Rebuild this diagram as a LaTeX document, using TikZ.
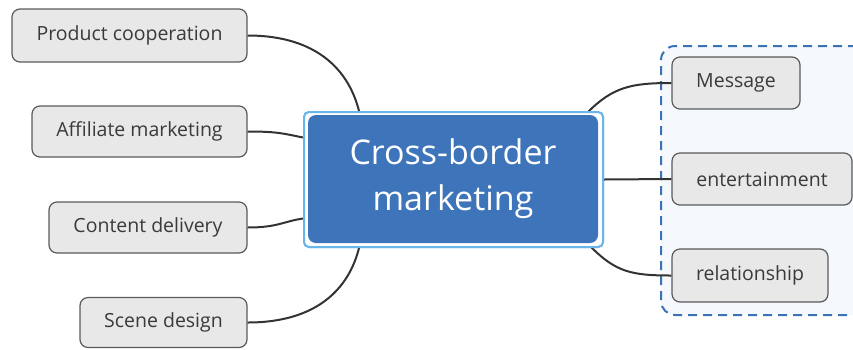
\documentclass[tikz,border=0pt]{standalone}
\usepackage{fontspec}
\setmainfont{Open Sans}
\usetikzlibrary{calc}
\definecolor{boxfill}{HTML}{E8E8E8}
\definecolor{boxline}{HTML}{5A5A5A}
\definecolor{txt}{HTML}{3A3A3A}
\definecolor{cblue}{HTML}{3E74BA}
\definecolor{cframe}{HTML}{68B6EA}
\definecolor{dashblue}{HTML}{3C71B6}
\definecolor{contfill}{HTML}{F5F8FD}
\definecolor{wire}{HTML}{333333}
\begin{document}
\begin{tikzpicture}[x=1pt,y=-1pt,
  topic/.style={draw=boxline,line width=1.2pt,fill=boxfill,rounded corners=8pt,
    text=txt,font=\fontsize{19.5}{23}\selectfont,inner sep=0pt},
  wire/.style={draw=wire,line width=2pt},
  centralframe/.style={draw=cframe,line width=2pt,fill=white,rounded corners=5pt,inner sep=0pt},
  centralbox/.style={fill=cblue,rounded corners=8pt,text=white,align=center,
    font=\fontsize{34}{46}\selectfont,inner sep=0pt},
  container/.style={draw=dashblue,line width=2pt,dash pattern=on 9pt off 6pt,fill=contfill,rounded corners=14pt}]
\useasboundingbox (0,0) rectangle (853,349);
% dashed container
\node[container,minimum width=210pt,minimum height=269pt,anchor=north west] (box) at (660,45) {};
% central topic
\node[centralframe,minimum width=299pt,minimum height=135pt] (c) at (453.5,179.5) {};
\node[centralbox,minimum width=290pt,minimum height=128pt] (ci) at (453,179) {Cross-border\\marketing};
% left topics
\node[topic,minimum width=235pt,minimum height=53pt] (p) at (129.5,35.5) {Product cooperation};
\node[topic,minimum width=215pt,minimum height=51pt] (a) at (139.5,131.5) {Affiliate marketing};
\node[topic,minimum width=198pt,minimum height=51pt] (d) at (148,227.5) {Content delivery};
\node[topic,minimum width=167pt,minimum height=50pt] (s) at (163.5,322.5) {Scene design};
% right topics
\node[topic,minimum width=128pt,minimum height=52pt] (m) at (736,83) {Message};
\node[topic,minimum width=180pt,minimum height=52pt] (e) at (762,179) {entertainment};
\node[topic,minimum width=156pt,minimum height=53pt] (r) at (750,275.5) {relationship};
% anchor points on central frame
\coordinate (ct1) at ($(c.north west)+(56,0)$);
\coordinate (cb1) at ($(c.south west)+(56,0)$);
\coordinate (cl1) at ($(c.west)+(0,-42)$);
\coordinate (cl2) at ($(c.west)+(0,39)$);
\coordinate (cr1) at ($(c.north east)+(-16,1)$);
\coordinate (cr2) at ($(c.south east)+(-13,-1)$);
% connectors
\draw[wire] (p.east) .. controls +(70,0) and +(-10,-40) .. (ct1);
\draw[wire] (a.east) .. controls +(30,0) and +(-20,-4) .. (cl1);
\draw[wire] (d.east) .. controls +(30,0) and +(-20,3) .. (cl2);
\draw[wire] (s.east) .. controls +(70,0) and +(-10,40) .. (cb1);
\draw[wire] (cr1) .. controls +(25,-25) and +(-40,0) .. (m.west);
\draw[wire] (c.east) -- (e.west);
\draw[wire] (cr2) .. controls +(25,25) and +(-40,0) .. (r.west);
% central topic again, above the connector ends
\node[centralframe,minimum width=299pt,minimum height=135pt] (cf) at (453.5,179.5) {};
\node[centralbox,minimum width=290pt,minimum height=128pt] (cc) at (453,179) {Cross-border\\marketing};
\end{tikzpicture}
\end{document}
